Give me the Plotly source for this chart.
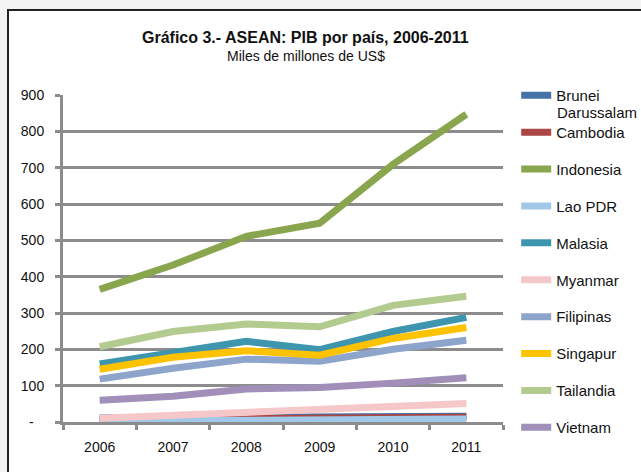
import plotly.graph_objects as go

anios = ['2006', '2007', '2008', '2009', '2010', '2011']

brunei = [11, 12, 14, 11, 12, 16]
camboya = [7, 9, 10, 10, 11, 13]
indonesia = [365, 432, 511, 547, 709, 847]
lao = [3, 4, 5, 6, 7, 8]
malasia = [160, 192, 222, 199, 249, 288]
myanmar = [10, 18, 24, 32, 43, 51]
filipinas = [118, 148, 173, 167, 200, 225]
singapur = [145, 178, 196, 184, 230, 260]
tailandia = [207, 249, 270, 262, 321, 346]
vietnam = [60, 71, 91, 95, 107, 122]

series = [
    ('Brunei', brunei, '#4572a7'),
    ('Cambodia', camboya, '#aa4643'),
    ('Indonesia', indonesia, '#89a54e'),
    ('Lao PDR', lao, '#a0c8e8'),
    ('Malasia', malasia, '#3d96ae'),
    ('Myanmar', myanmar, '#f6c7c9'),
    ('Filipinas', filipinas, '#8ea5cb'),
    ('Singapur', singapur, '#fdc200'),
    ('Tailandia', tailandia, '#b3cb8f'),
    ('Vietnam', vietnam, '#a18fba'),
]

fig = go.Figure()
for i, (nombre, valores, color) in enumerate(series):
    fig.add_trace(go.Scatter(x=anios, y=valores, name=nombre, mode='lines',
                             line=dict(color=color, width=7), cliponaxis=False,
                             legendgroup='g' + str(i)))

gris = '#8c8c8c'
fuente = 'Liberation Sans, Arial'
fig.update_xaxes(type='category', range=[-0.5, 5.5], showgrid=False, showline=True,
                 linecolor=gris, linewidth=3, layer='below traces',
                 ticks='outside', tickson='boundaries', ticklen=5, tickwidth=3, tickcolor=gris,
                 ticklabelstandoff=10, tickfont=dict(family=fuente, size=14, color='#111'))
fig.update_yaxes(range=[0, 900], tickvals=[0, 100, 200, 300, 400, 500, 600, 700, 800, 900],
                 ticktext=['-\u2007\u2009', '100', '200', '300', '400', '500', '600', '700', '800', '900'],
                 showgrid=True, gridcolor=gris, gridwidth=3, zeroline=False,
                 showline=True, linecolor=gris, linewidth=3, layer='below traces',
                 ticks='outside', ticklen=5, tickwidth=3, tickcolor=gris, ticklabelstandoff=8,
                 tickfont=dict(family=fuente, size=14, color='#111'))

# marco del gráfico
fig.add_shape(type='rect', xref='paper', yref='paper', x0=-0.125, x1=1.4, y0=-0.2, y1=1.26,
              line=dict(color='#222', width=2), fillcolor='white', layer='below')

fig.add_annotation(text='<b>Gráfico 3.- ASEAN: PIB por país, 2006-2011</b>', xref='paper', yref='paper',
                   x=0.552, y=1.177, yanchor='middle', showarrow=False,
                   font=dict(family='Liberation Sans Narrow, Arial Narrow, Arial', size=16, color='#111'))
fig.add_annotation(text='Miles de millones de US$', xref='paper', yref='paper',
                   x=0.552, y=1.119, yanchor='middle', showarrow=False,
                   font=dict(family='Liberation Sans Narrow, Arial Narrow, Arial', size=14, color='#111'))
fig.add_annotation(text='Darussalam', xref='paper', yref='paper', x=1.118, y=0.946,
                   xanchor='left', yanchor='middle', showarrow=False,
                   font=dict(family=fuente, size=15, color='#111'))

fig.update_layout(
    width=641, height=472,
    margin=dict(l=63, r=138, t=95, b=50, autoexpand=False),
    paper_bgcolor='#f3f3f3', plot_bgcolor='white',
    showlegend=True,
    legend=dict(x=1.03, y=1.049, xanchor='left', yanchor='top', tracegroupgap=14.4,
                maxheight=460,
                font=dict(family=fuente, size=15, color='#111'),
                bgcolor='rgba(0,0,0,0)'),
)

fig.write_html("out.html", config={'displayModeBar': False},
               post_script="document.body.style.margin='0';document.body.style.background='#f3f3f3';")
